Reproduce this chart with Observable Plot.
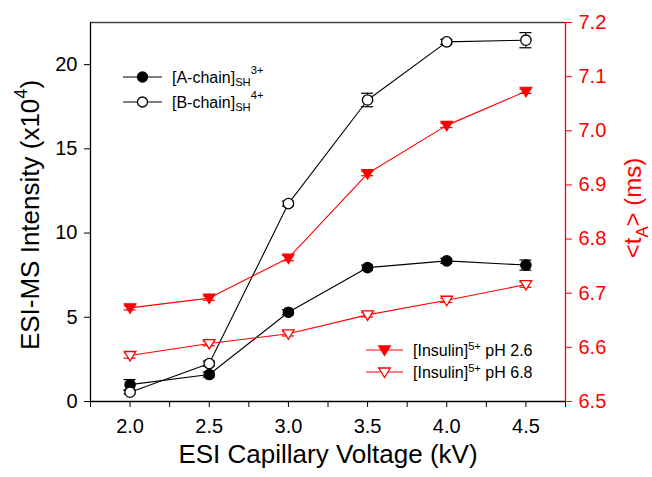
<!DOCTYPE html>
<html><head><meta charset="utf-8">
<script src="https://cdn.jsdelivr.net/npm/d3@7"></script>
<script src="https://cdn.jsdelivr.net/npm/@observablehq/plot@0.6"></script>
<style>
body{margin:0;background:#fff;}
#chart{position:relative;width:652px;height:477px;}
</style></head><body><div id="chart"></div>
<script>
// ---------- data ----------
const voltage = [2.0, 2.5, 3.0, 3.5, 4.0, 4.5];
const aChain = [1.0, 1.6, 5.3, 7.95, 8.35, 8.1];
const aChainErr = [0.3, 0.15, 0.15, 0.15, 0.15, 0.3];
const bChain = [0.55, 2.25, 11.75, 17.9, 21.35, 21.45];
const bChainErr = [0.1, 0.15, 0.15, 0.4, 0.15, 0.45];
const insulinPH26 = [6.673, 6.691, 6.765, 6.921, 7.010, 7.073];
const insulinPH26Err = [0.004, 0.004, 0.005, 0.004, 0.004, 0.004];
const insulinPH68 = [6.585, 6.607, 6.625, 6.660, 6.687, 6.716];
const insulinPH68Err = [0.005, 0.004, 0.004, 0.004, 0.004, 0.005];

const xDomain = [1.75, 4.75];
const yLeftDomain = [0, 22.5];
const yRightDomain = [6.5, 7.2];
const xTicks = [1.75, 2.0, 2.25, 2.5, 2.75, 3.0, 3.25, 3.5, 3.75, 4.0, 4.25, 4.5, 4.75];
const xTickLabels = ["", "2.0", "", "2.5", "", "3.0", "", "3.5", "", "4.0", "", "4.5", ""];
const yLeftTicks = [0, 5, 10, 15, 20];
const yRightTicks = [6.5, 6.6, 6.7, 6.8, 6.9, 7.0, 7.1, 7.2];

const seriesNames = ["[A-chain]_{SH}^{3+}", "[B-chain]_{SH}^{4+}", "[Insulin]^{5+} pH 2.6", "[Insulin]^{5+} pH 6.8"];
const xLabel = "ESI Capillary Voltage (kV)";
const yLeftLabel = "ESI-MS Intensity (x10^{4})";
const yRightLabel = "<t_{A}> (ms)";

// ---------- helpers ----------
const RED = "#ff0000";
const FONT = "'Liberation Sans', Arial, Helvetica, sans-serif";
const toLeft = t => (t - yRightDomain[0]) / (yRightDomain[1] - yRightDomain[0]) * (yLeftDomain[1] - yLeftDomain[0]) + yLeftDomain[0];
const fromLeft = v => yRightDomain[0] + (v - yLeftDomain[0]) / (yLeftDomain[1] - yLeftDomain[0]) * (yRightDomain[1] - yRightDomain[0]);

const triangleDown = {
  draw(ctx, size) {
    const r = Math.sqrt(size / Math.PI);
    ctx.moveTo(-1.15 * r, -0.8 * r);
    ctx.lineTo(1.15 * r, -0.8 * r);
    ctx.lineTo(0, 1.1 * r);
    ctx.closePath();
  }
};

const left = [];
voltage.forEach((v, i) => {
  left.push({s: "A", x: v, y: aChain[i], e: aChainErr[i]});
});
voltage.forEach((v, i) => {
  left.push({s: "B", x: v, y: bChain[i], e: bChainErr[i]});
});
const right = [];
voltage.forEach((v, i) => {
  right.push({s: "P26", x: v, y: toLeft(insulinPH26[i]), lo: toLeft(insulinPH26[i] - insulinPH26Err[i]), hi: toLeft(insulinPH26[i] + insulinPH26Err[i])});
});
voltage.forEach((v, i) => {
  right.push({s: "P68", x: v, y: toLeft(insulinPH68[i]), lo: toLeft(insulinPH68[i] - insulinPH68Err[i]), hi: toLeft(insulinPH68[i] + insulinPH68Err[i])});
});
left.forEach(d => { d.lo = d.y - d.e; d.hi = d.y + d.e; });
const capHalf = 0.038;

const errMarks = (data, color) => [
  Plot.ruleX(data, {x: "x", y1: "lo", y2: "hi", stroke: color, strokeWidth: 1}),
  Plot.ruleY(data, {y: "lo", x1: d => d.x - capHalf, x2: d => d.x + capHalf, stroke: color, strokeWidth: 1.2}),
  Plot.ruleY(data, {y: "hi", x1: d => d.x - capHalf, x2: d => d.x + capHalf, stroke: color, strokeWidth: 1.2})
];

const chart = Plot.plot({
  width: 652,
  height: 477,
  marginLeft: 90,
  marginRight: 87,
  marginTop: 22,
  marginBottom: 76,
  style: {fontFamily: FONT, fontSize: "20px", background: "white", color: "black"},
  x: {domain: xDomain},
  y: {domain: yLeftDomain},
  marks: [
    // frame
    Plot.ruleY([yLeftDomain[1]], {stroke: "#444", strokeWidth: 1.3}),
    Plot.ruleY([yLeftDomain[0]], {stroke: "black", strokeWidth: 1.3}),
    Plot.ruleX([xDomain[0]], {stroke: "black", strokeWidth: 1.3}),
    Plot.ruleX([xDomain[1]], {stroke: RED, strokeWidth: 1.3}),
    // axes
    Plot.axisX({ticks: xTicks, tickFormat: (d, i) => xTickLabels[i], tickSize: 6, tickPadding: 11, fontSize: 20, label: null}),
    Plot.axisY({anchor: "left", ticks: yLeftTicks, tickSize: 6, tickPadding: 7, fontSize: 20, label: null}),
    Plot.axisY({anchor: "right", ticks: yRightTicks.map(toLeft), tickFormat: v => fromLeft(v).toFixed(1), color: RED, tickSize: 6, tickPadding: 7, fontSize: 20, label: null}),
    // error bars
    ...errMarks(left, "black"),
    ...errMarks(right, RED),
    // lines
    Plot.line(left, {x: "x", y: "y", z: "s", stroke: "black", strokeWidth: 1.1}),
    Plot.line(right, {x: "x", y: "y", z: "s", stroke: RED, strokeWidth: 1.1}),
    // markers
    Plot.dot(left.filter(d => d.s === "A"), {x: "x", y: "y", r: 5.2, fill: "black", stroke: "black", strokeWidth: 1.2}),
    Plot.dot(left.filter(d => d.s === "B"), {x: "x", y: "y", r: 5.2, fill: "white", stroke: "black", strokeWidth: 1.3}),
    Plot.dot(right.filter(d => d.s === "P26"), {x: "x", y: "y", r: 5, symbol: triangleDown, fill: RED, stroke: RED, strokeWidth: 1.2}),
    Plot.dot(right.filter(d => d.s === "P68"), {x: "x", y: "y", r: 5, symbol: triangleDown, fill: "white", stroke: RED, strokeWidth: 1.3}),
    // axis titles
    Plot.text([xLabel], {frameAnchor: "bottom", textAnchor: "middle", dy: 61, fontSize: 26, fill: "black"}),
    Plot.text([yLeftLabel], {frameAnchor: "left", textAnchor: "middle", dx: -60, dy: 3, rotate: -90, fontSize: 26, fill: "black"}),
    Plot.text([yRightLabel], {frameAnchor: "right", textAnchor: "middle", dx: 68, dy: -4, rotate: -90, fontSize: 24, fill: RED})
  ]
});

// rich text (sub/superscripts) via tspans
function richText(el, str, fs, opt) {
  const parts = str.split(/(_\{[^}]*\}|\^\{[^}]*\})/).filter(s => s.length);
  el.text(null);
  let cur = 0;
  for (const p of parts) {
    let target, txt, size;
    if (p.startsWith("_{")) { target = opt.sub * fs; txt = p.slice(2, -1); size = fs * opt.scale; }
    else if (p.startsWith("^{")) { target = -opt.sup * fs; txt = p.slice(2, -1); size = fs * opt.scale; }
    else { target = 0; txt = p; size = fs; }
    const t = el.append("tspan").attr("font-size", size).text(txt);
    if (target - cur !== 0) t.attr("dy", target - cur);
    cur = target;
  }
}

const svg = d3.select(chart);
svg.selectAll("text").each(function() {
  const s = this.textContent;
  if (s === yLeftLabel) richText(d3.select(this), s, 26, {sub: 0.3, sup: 0.45, scale: 0.7});
  else if (s === yRightLabel) richText(d3.select(this), s, 24, {sub: 0.3, sup: 0.45, scale: 0.7});
});

// legends
const legendItems = [
  {name: seriesNames[0], x: 123, y: 77, len: 39, color: "black", fill: "black", sym: d3.symbolCircle, opt: {sub: 0.22, sup: 0.55, scale: 0.7}},
  {name: seriesNames[1], x: 123, y: 102, len: 39, color: "black", fill: "white", sym: d3.symbolCircle, opt: {sub: 0.22, sup: 0.55, scale: 0.7}},
  {name: seriesNames[2], x: 366, y: 350, len: 37, color: RED, fill: RED, sym: triangleDown, opt: {sub: 0.22, sup: 0.35, scale: 0.7}},
  {name: seriesNames[3], x: 366, y: 372, len: 37, color: RED, fill: "white", sym: triangleDown, opt: {sub: 0.22, sup: 0.35, scale: 0.7}}
];
const lg = svg.append("g").attr("font-family", FONT).attr("text-anchor", "start");
for (const it of legendItems) {
  lg.append("line").attr("x1", it.x).attr("x2", it.x + it.len).attr("y1", it.y).attr("y2", it.y)
    .attr("stroke", it.color).attr("stroke-width", 1.1);
  lg.append("path").attr("d", d3.symbol(it.sym, Math.PI * 25)())
    .attr("transform", `translate(${it.x + it.len / 2},${it.y})`)
    .attr("fill", it.fill).attr("stroke", it.color).attr("stroke-width", 1.3);
  const t = lg.append("text").attr("x", it.x + it.len + 10).attr("y", it.y + 5.5)
    .attr("text-anchor", "start").attr("font-size", 16).attr("fill", "black");
  richText(t, it.name, 16, it.opt);
}

document.getElementById("chart").appendChild(chart);
</script>
</body></html>
